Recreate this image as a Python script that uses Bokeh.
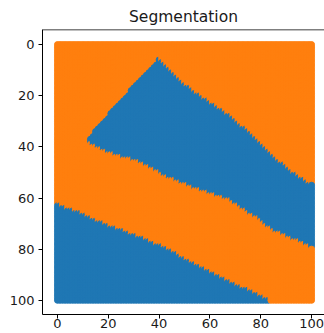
import numpy as np
from bokeh.plotting import figure
from bokeh.models import Range1d, Span, ColumnDataSource, FixedTicker
from bokeh.embed import file_html
from bokeh.resources import INLINE

# Grid of sample points (0..100 in both directions)
grid_x = list(range(0, 101))
grid_y = list(range(0, 101))

# Boundaries of the segmentation regions (y grows downward)
upper_top_x = [12, 16, 33, 40, 52, 59, 68, 74, 86, 94, 100]
upper_top_y = [38, 32.5, 13.5, 6, 17, 22, 28, 33, 44.6, 51, 55]
upper_bottom_x = [12, 14, 21, 33, 44.5, 56, 68, 79, 85, 94, 100]
upper_bottom_y = [38, 39.4, 42.6, 46.2, 52.4, 57, 61, 68, 72.6, 76.5, 79.5]
lower_top_x = [0, 9, 13, 23.5, 33, 44.5, 52, 60, 68, 75, 83, 100]
lower_top_y = [62.5, 66, 68, 72, 75.5, 80.4, 85, 89, 93, 96, 100, 109]

class_colors = ["#ff7f0e", "#1f77b4"]
x_ticks = [0, 20, 40, 60, 80, 100]
y_ticks = [0, 20, 40, 60, 80, 100]

xs, ys, cols = [], [], []
for gx in grid_x:
    t = np.interp(gx, upper_top_x, upper_top_y, left=np.inf)
    b = np.interp(gx, upper_bottom_x, upper_bottom_y, left=-np.inf)
    lt = np.interp(gx, lower_top_x, lower_top_y)
    for gy in grid_y:
        label = 1 if (gy >= lt or (t <= gy < b)) else 0
        xs.append(gx)
        ys.append(gy)
        cols.append(class_colors[label])

src = ColumnDataSource(dict(x=xs, y=ys, c=cols))

p = figure(width=324, height=333, output_backend="svg", toolbar_location=None,
           x_range=Range1d(-5.9, 105.1), y_range=Range1d(105.56, -5.9),
           title="Segmentation", min_border_left=42, min_border_right=0,
           min_border_bottom=19, min_border_top=29)
p.scatter("x", "y", source=src, size=6, fill_color="c", line_color="c", line_width=1)

p.outline_line_color = None
p.add_layout(Span(location=-5.9, dimension="width", line_color="black", line_width=1.5))
p.grid.visible = False
p.background_fill_color = "white"
p.border_fill_color = "white"

p.title.align = "center"
p.title.text_font = "DejaVu Sans"
p.title.text_font_size = "15.5px"
p.title.text_font_style = "normal"
p.title.text_color = "#1a1a1a"
p.title.standoff = 7

for ax, ticks in ((p.xaxis[0], x_ticks), (p.yaxis[0], y_ticks)):
    ax.ticker = FixedTicker(ticks=ticks)
    ax.minor_tick_line_color = None
    ax.major_tick_out = 4
    ax.major_tick_in = 0
    ax.axis_line_color = "black"
    ax.major_tick_line_color = "black"
    ax.major_label_text_font = "DejaVu Sans"
    ax.major_label_text_font_size = "13px"
    ax.major_label_text_color = "#1a1a1a"
p.xaxis[0].major_label_standoff = 0
p.yaxis[0].major_label_standoff = 4

open("out.html", "w").write(file_html(p, INLINE))
